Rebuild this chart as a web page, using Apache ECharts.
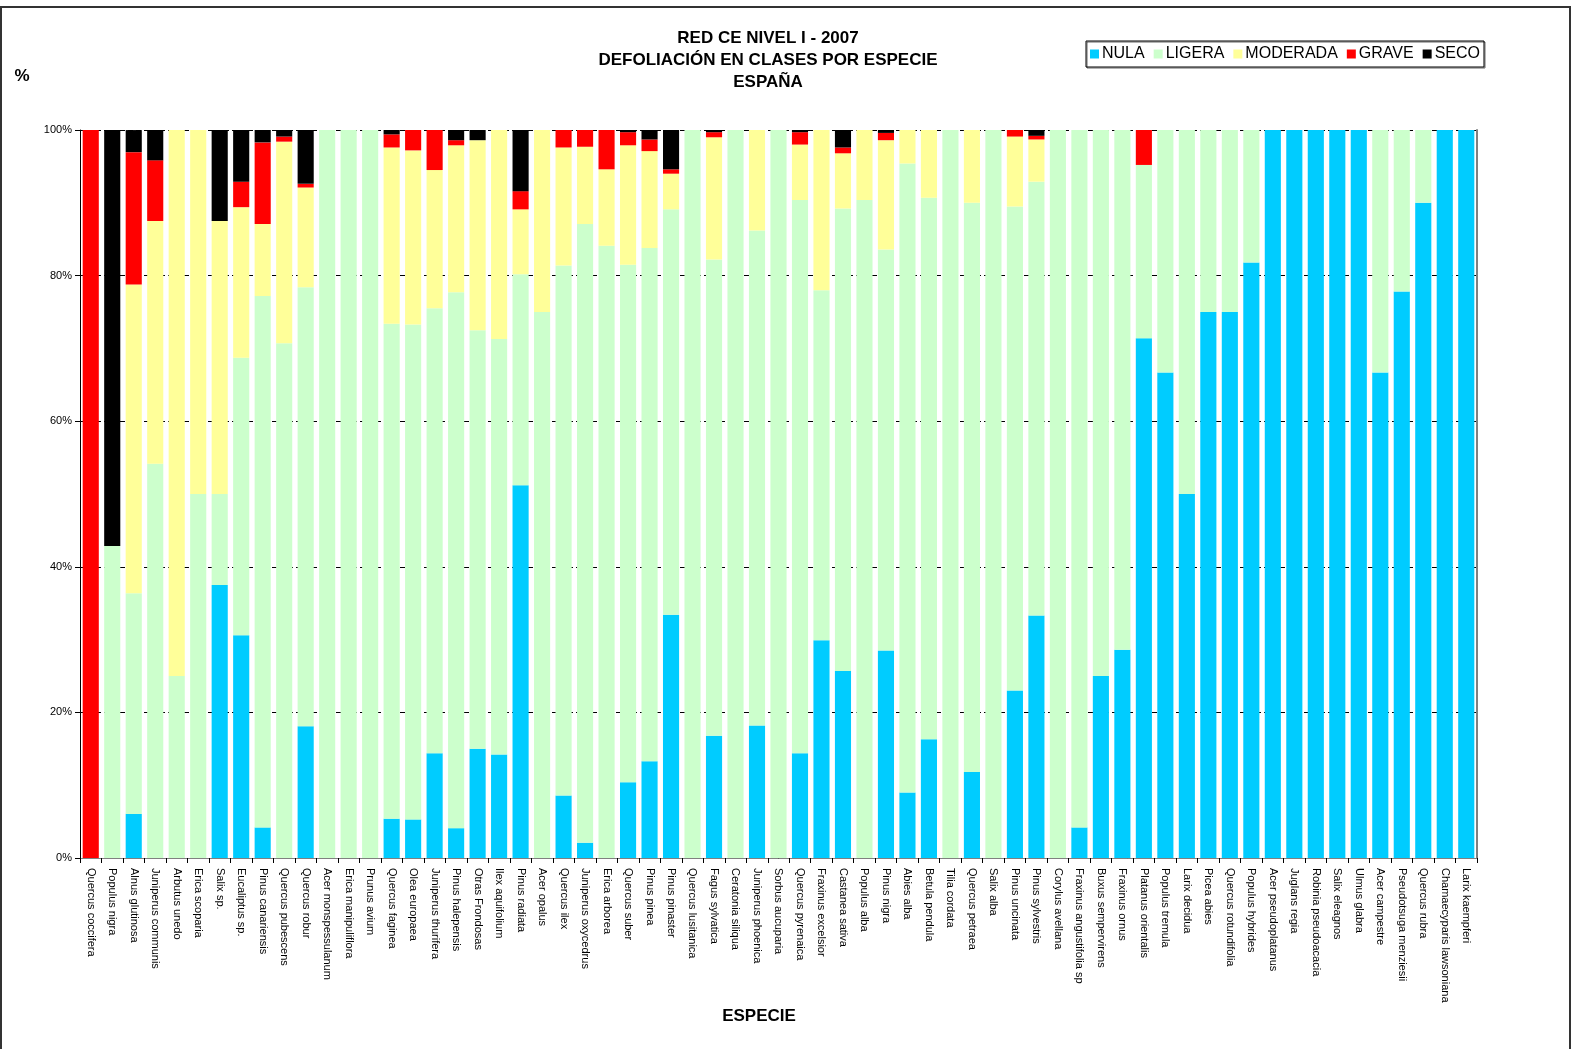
<!DOCTYPE html>
<html lang="es">
  <head>
    <meta charset="UTF-8" />
    <title>Red CE Nivel I - 2007 - Defoliación por especie</title>
    <script src="https://cdn.jsdelivr.net/npm/echarts@6/dist/echarts.min.js"></script>
    <style>
      * {
        margin: 0;
        padding: 0;
      }
      body {
        background: #fff;
      }
    </style>
  </head>
  <body>
    <div id="main" style="width: 1573px; height: 1049px"></div>
    <script>
      // especies (eje X)
      var especies = [
        'Quercus coccifera', 'Populus nigra', 'Alnus glutinosa', 'Juniperus communis', 'Arbutus unedo',
        'Erica scoparia', 'Salix sp.', 'Eucaliptus sp.', 'Pinus canariensis', 'Quercus pubescens',
        'Quercus robur', 'Acer monspessulanum', 'Erica manipuliflora', 'Prunus avium', 'Quercus faginea',
        'Olea europaea', 'Juniperus thurifera', 'Pinus halepensis', 'Otras Frondosas', 'Ilex aquifolium',
        'Pinus radiata', 'Acer opalus', 'Quercus ilex', 'Juniperus oxycedrus', 'Erica arborea',
        'Quercus suber', 'Pinus pinea', 'Pinus pinaster', 'Quercus lusitanica', 'Fagus sylvatica',
        'Ceratonia siliqua', 'Juniperus phoenica', 'Sorbus aucuparia', 'Quercus pyrenaica', 'Fraxinus excelsior',
        'Castanea sativa', 'Populus alba', 'Pinus nigra', 'Abies alba', 'Betula pendula',
        'Tilia cordata', 'Quercus petraea', 'Salix alba', 'Pinus uncinata', 'Pinus sylvestris',
        'Corylus avellana', 'Fraxinus angustifolia sp', 'Buxus sempervirens', 'Fraxinus ornus', 'Platanus orientalis',
        'Populus tremula', 'Larix decidua', 'Picea abies', 'Quercus rotundifolia', 'Populus hybrides',
        'Acer pseudoplatanus', 'Juglans regia', 'Robinia pseudoacacia', 'Salix eleagnos', 'Ulmus glabra',
        'Acer campestre', 'Pseudotsuga menziesii', 'Quercus rubra', 'Chamaecyparis lawsoniana', 'Larix kaempferi'
      ];

      // % de árboles por clase de defoliación
      var nula = [
        0, 0, 6.06, 0, 0, 0, 37.5, 30.6, 4.2, 0,
        18.1, 0, 0, 0, 5.4, 5.3, 14.4, 4.1, 15.0, 14.2,
        51.2, 0, 8.6, 2.1, 0, 10.4, 13.3, 33.4, 0, 16.8,
        0, 18.2, 0, 14.4, 29.9, 25.7, 0, 28.5, 9.0, 16.3,
        0, 11.8, 0, 23.0, 33.3, 0, 4.2, 25, 28.6, 71.4,
        66.7, 50, 75, 75, 81.8, 100, 100, 100, 100, 100,
        66.7, 77.8, 90, 100, 100
      ];
      var ligera = [
        0, 42.86, 30.3, 54.17, 25, 50, 12.5, 38.1, 73.0, 70.7,
        60.3, 100, 100, 100, 68.0, 68.0, 61.1, 73.6, 57.5, 57.1,
        29.0, 75, 72.8, 85.0, 84.1, 71.1, 70.5, 55.7, 100, 65.4,
        100, 68.0, 100, 76.0, 48.1, 63.5, 90.4, 55.1, 86.4, 74.4,
        100, 78.2, 100, 66.5, 59.6, 100, 95.8, 75, 71.4, 23.8,
        33.3, 50, 25, 25, 18.2, 0, 0, 0, 0, 0,
        33.3, 22.2, 10, 0, 0
      ];
      var moderada = [
        0, 0, 42.42, 33.33, 75, 50, 37.5, 20.7, 9.9, 27.7,
        13.7, 0, 0, 0, 24.2, 23.9, 19.0, 20.2, 26.1, 28.7,
        8.9, 25, 16.2, 10.6, 10.5, 16.4, 13.3, 4.9, 0, 16.8,
        0, 13.8, 0, 7.6, 22.0, 7.6, 9.6, 15.0, 4.6, 9.3,
        0, 10.0, 0, 9.6, 5.8, 0, 0, 0, 0, 0,
        0, 0, 0, 0, 0, 0, 0, 0, 0, 0,
        0, 0, 0, 0, 0
      ];
      var grave = [
        100, 0, 18.18, 8.33, 0, 0, 0, 3.5, 11.2, 0.7,
        0.5, 0, 0, 0, 1.8, 2.8, 5.5, 0.7, 0, 0,
        2.5, 0, 2.4, 2.3, 5.4, 1.8, 1.6, 0.6, 0, 0.7,
        0, 0, 0, 1.7, 0, 0.8, 0, 1.0, 0, 0,
        0, 0, 0, 0.9, 0.5, 0, 0, 0, 0, 4.8,
        0, 0, 0, 0, 0, 0, 0, 0, 0, 0,
        0, 0, 0, 0, 0
      ];
      var seco = [
        0, 57.14, 3.03, 4.17, 0, 0, 12.5, 7.1, 1.7, 0.9,
        7.4, 0, 0, 0, 0.6, 0, 0, 1.4, 1.4, 0,
        8.4, 0, 0, 0, 0, 0.3, 1.3, 5.4, 0, 0.3,
        0, 0, 0, 0.3, 0, 2.4, 0, 0.4, 0, 0,
        0, 0, 0, 0, 0.8, 0, 0, 0, 0, 0,
        0, 0, 0, 0, 0, 0, 0, 0, 0, 0,
        0, 0, 0, 0, 0
      ];

      var clases = ['NULA', 'LIGERA', 'MODERADA', 'GRAVE', 'SECO'];
      var colores = ['#00ccff', '#ccffcc', '#ffff99', '#ff0000', '#000000'];
      var valores = [nula, ligera, moderada, grave, seco];

      var fuente = 'Liberation Sans, Arial, sans-serif';
      var myChart = echarts.init(document.getElementById('main'));

      var series = clases.map(function (nombre, i) {
        return {
          name: nombre,
          type: 'bar',
          stack: 'total',
          barCategoryGap: '25%',
          itemStyle: { color: colores[i] },
          data: valores[i]
        };
      });

      myChart.setOption({
        animation: false,
        textStyle: { fontFamily: fuente },
        graphic: [
          {
            // marco exterior
            type: 'rect',
            shape: { x: 1, y: 7, width: 1569, height: 1060 },
            style: { fill: 'none', stroke: '#333', lineWidth: 2 },
            z: 100
          },
          {
            type: 'text',
            style: {
              text: 'RED CE NIVEL I - 2007\nDEFOLIACIÓN EN CLASES POR ESPECIE\nESPAÑA',
              x: 768,
              y: 27,
              align: 'center',
              verticalAlign: 'top',
              lineHeight: 22.3,
              font: 'bold 17px ' + fuente,
              fill: '#000'
            }
          },
          {
            type: 'text',
            style: {
              text: '%',
              x: 22,
              y: 76,
              align: 'center',
              verticalAlign: 'middle',
              font: 'bold 17px ' + fuente,
              fill: '#000'
            }
          },
          {
            type: 'text',
            style: {
              text: 'ESPECIE',
              x: 759,
              y: 1016,
              align: 'center',
              verticalAlign: 'middle',
              font: 'bold 17px ' + fuente,
              fill: '#000'
            }
          }
        ],
        legend: {
          data: clases,
          left: 1086,
          top: 41,
          padding: [5, 4, 5, 4],
          itemGap: 9,
          itemWidth: 9,
          itemHeight: 9,
          icon: 'rect',
          borderColor: '#000',
          borderWidth: 1,
          shadowColor: 'rgba(0,0,0,0.6)',
          shadowOffsetX: 1,
          shadowOffsetY: 1,
          textStyle: { fontSize: 16, color: '#000', fontFamily: fuente, padding: [0, 0, 0, -2] }
        },
        grid: {
          left: 80,
          right: 96,
          top: 130,
          bottom: 191
        },
        xAxis: [
          {
            type: 'category',
            data: especies,
            axisLine: { lineStyle: { color: '#000', width: 1 } },
            axisTick: { show: true, length: 5, lineStyle: { color: '#000' } },
            axisLabel: {
              rotate: -90,
              interval: 0,
              margin: 10,
              fontSize: 11,
              color: '#000',
              fontFamily: fuente
            }
          },
          {
            type: 'category',
            position: 'top',
            data: especies,
            axisLine: { lineStyle: { color: '#808080', width: 1 } },
            axisTick: { show: false },
            axisLabel: { show: false }
          }
        ],
        yAxis: [
          {
            type: 'value',
            min: 0,
            max: 100,
            interval: 20,
            axisLine: { show: true, lineStyle: { color: '#000', width: 1 } },
            axisTick: { show: true, length: 5, lineStyle: { color: '#000' } },
            axisLabel: {
              formatter: '{value}%',
              fontSize: 11,
              color: '#000',
              margin: 8,
              fontFamily: fuente
            },
            splitLine: {
              show: true,
              lineStyle: { color: '#000', type: [5, 3], width: 1 }
            }
          },
          {
            type: 'value',
            position: 'right',
            min: 0,
            max: 100,
            interval: 20,
            axisLine: { show: true, lineStyle: { color: '#808080', width: 2 } },
            axisTick: { show: false },
            axisLabel: { show: false },
            splitLine: { show: false }
          }
        ],
        series: series
      });
    </script>
  </body>
</html>
